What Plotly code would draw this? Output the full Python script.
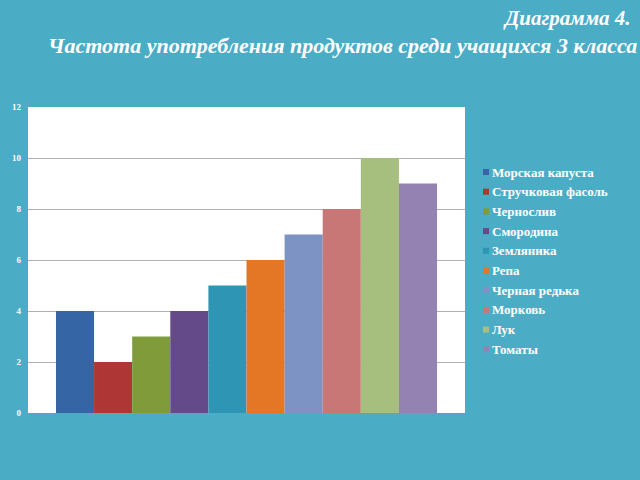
import plotly.graph_objects as go

names = ["Морская капуста", "Стручковая фасоль", "Чернослив", "Смородина", "Земляника",
         "Репа", "Черная редька", "Морковь", "Лук", "Томаты"]
values = [4, 2, 3, 4, 5, 6, 7, 8, 10, 9]
colors = ["#3565A5", "#AE3634", "#7F9B3A", "#654A8A", "#2E96B4",
          "#E37726", "#7C93C4", "#C97676", "#A6BF7E", "#9382B2"]
category = ["Частота"]

L, R, T, B = 28, 175, 107, 67
W, H = 640, 480
pw, ph = W - L - R, H - T - B

fig = go.Figure()
for n, v, c in zip(names, values, colors):
    fig.add_trace(go.Bar(name=n, x=category, y=[v], showlegend=False,
                         marker=dict(color=c, line=dict(width=0))))

fig.update_layout(
    width=W, height=H,
    paper_bgcolor="#4BACC6", plot_bgcolor="white",
    margin=dict(l=L, r=R, t=T, b=B),
    barmode="group", bargap=0.128, bargroupgap=0,
    font=dict(family="Liberation Serif", color="white"),
    xaxis=dict(showticklabels=False, showgrid=False, zeroline=False),
    yaxis=dict(range=[0, 12], dtick=2, showgrid=True, gridcolor="#B0B0B0",
               tickfont=dict(size=9, color="white", family="Liberation Serif", weight="bold"),
               zeroline=False, ticks="", ticklabelstandoff=6),
    showlegend=False,
)

# legend drawn as text entries
for i, (n, c) in enumerate(zip(names, colors)):
    yc = 172 + i * 19.7
    fig.add_shape(type="rect", xref="paper", yref="paper",
                  x0=(483 - L) / pw, x1=(489 - L) / pw,
                  y0=(H - B - yc - 3) / ph, y1=(H - B - yc + 3) / ph,
                  fillcolor=c, line=dict(width=0))
    fig.add_annotation(text=n, xref="paper", yref="paper",
                       x=(490 - L) / pw, y=(H - B - yc) / ph,
                       xanchor="left", yanchor="middle", showarrow=False,
                       font=dict(size=13, color="white", family="Liberation Serif", weight="bold"))

fig.add_annotation(text="<b><i>Диаграмма 4.</i></b>", xref="paper", yref="paper",
                   x=(633 - L) / pw, y=(H - B - 18) / ph, xanchor="right", yanchor="middle",
                   showarrow=False,
                   font=dict(size=21, color="white", family="Liberation Serif"))
fig.add_annotation(text="<b><i>Частота употребления продуктов среди учащихся 3 класса</i></b>",
                   xref="paper", yref="paper",
                   x=(639 - L) / pw, y=(H - B - 45) / ph, xanchor="right", yanchor="middle",
                   showarrow=False,
                   font=dict(size=22, color="white", family="Liberation Serif"))
fig.write_html("out.html", config={"displayModeBar": False},
               post_script="document.body.style.margin='0';")
